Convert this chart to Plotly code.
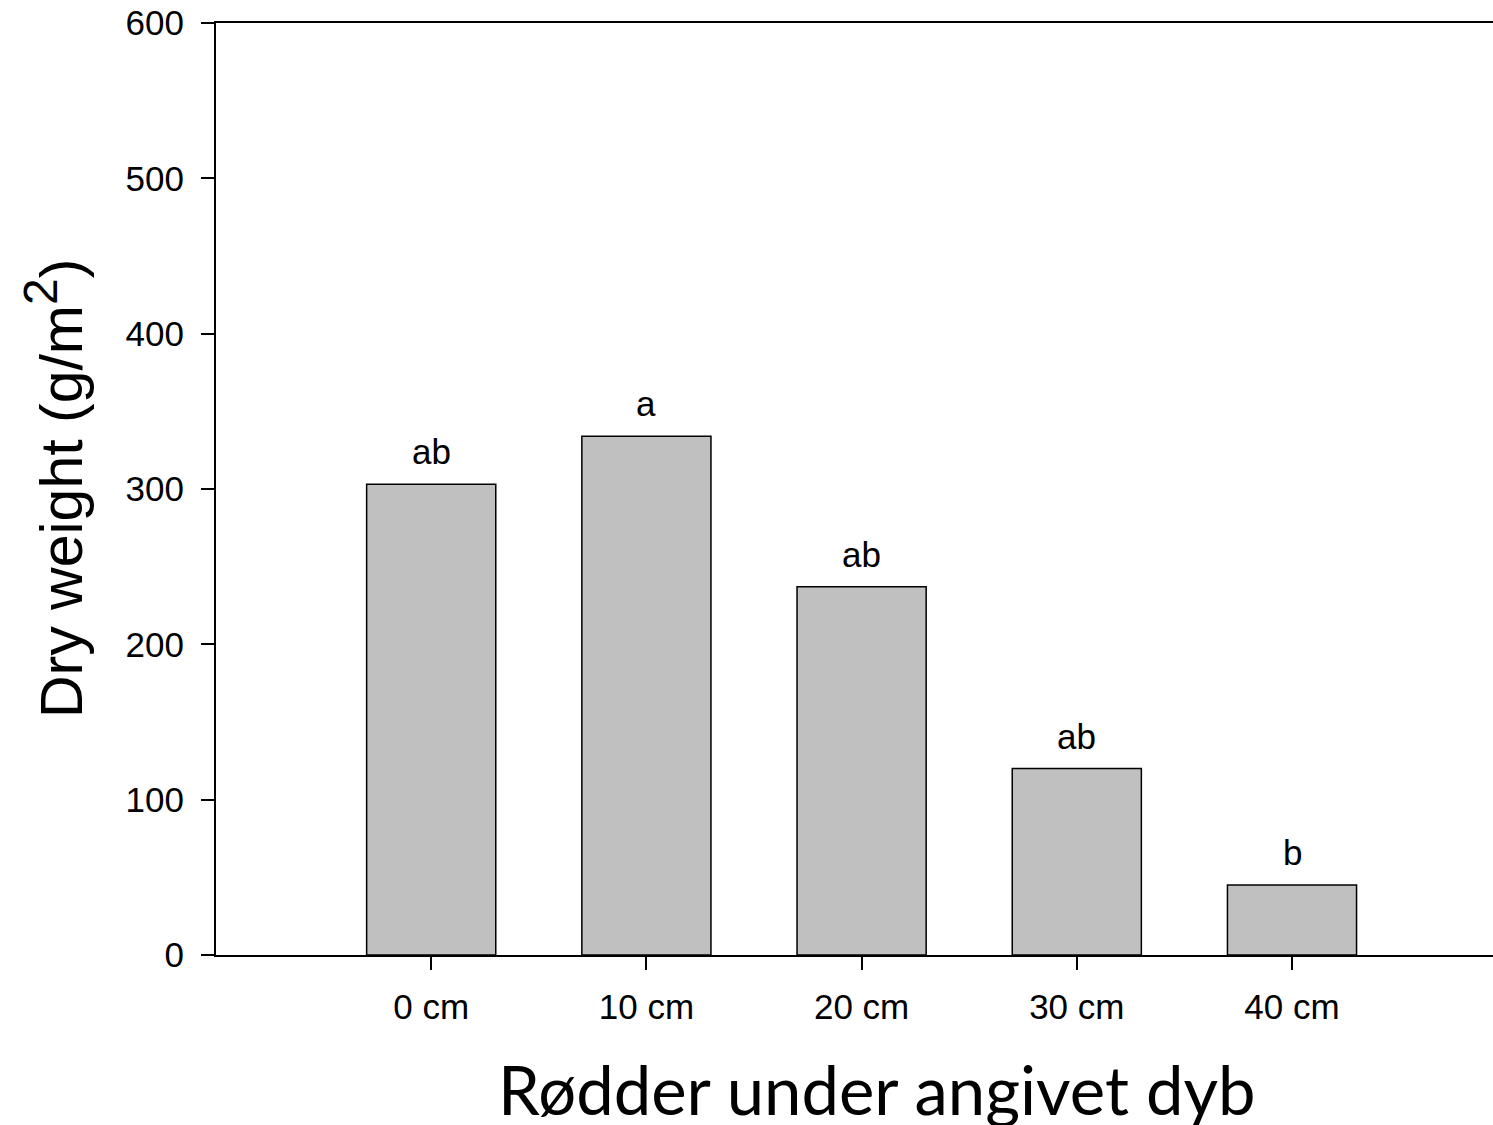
import plotly.graph_objects as go

# Root dry weight per depth class
depths = ["0 cm", "10 cm", "20 cm", "30 cm", "40 cm"]
dry_weight = [303, 334, 237, 120, 45]
group_letters = ["ab", "a", "ab", "ab", "b"]

x_pos = list(range(len(depths)))

fig = go.Figure()
fig.add_trace(go.Bar(
    x=x_pos,
    y=dry_weight,
    width=0.6,
    marker=dict(color="#c0c0c0", line=dict(color="black", width=1.5)),
    showlegend=False,
))

# Significance letters above each bar
for xi, yi, lab in zip(x_pos, dry_weight, group_letters):
    fig.add_annotation(
        x=xi, y=yi, text=lab, showarrow=False,
        xanchor="center", yanchor="bottom", yshift=11,
        font=dict(family="Liberation Sans, Arial", size=35, color="black"),
    )

# Axis titles
fig.add_annotation(
    xref="paper", yref="paper", x=-0.1268, y=0.5,
    text="Dry weight (g/m<sup><span style='font-size:48px'>2</span></sup>)",
    textangle=-90, showarrow=False,
    xanchor="center", yanchor="middle",
    font=dict(family="Liberation Sans, Arial", size=59, color="black"),
)
fig.add_annotation(
    xref="paper", yref="paper", x=0.5176, y=-0.1438,
    text="Rødder under angivet dyb", showarrow=False,
    xanchor="center", yanchor="middle",
    font=dict(family="Lato", size=67, color="black"),
)

fig.update_layout(
    width=1493, height=1125,
    margin=dict(l=216, r=0, t=23, b=170),
    paper_bgcolor="white", plot_bgcolor="white",
    font=dict(family="Liberation Sans, Arial", size=35, color="black"),
)
fig.update_xaxes(
    range=[-1, 4.934],
    tickmode="array", tickvals=x_pos, ticktext=depths,
    showline=True, linecolor="black", linewidth=2, mirror=True,
    ticks="outside", ticklen=13, tickwidth=2, tickcolor="black",
    ticklabelstandoff=7,
    showgrid=False, zeroline=False,
    tickfont=dict(size=35),
)
fig.update_yaxes(
    range=[0, 600], tickvals=[0, 100, 200, 300, 400, 500, 600],
    showline=True, linecolor="black", linewidth=2,
    ticks="outside", ticklen=13, tickwidth=2, tickcolor="black",
    ticklabelstandoff=10,
    showgrid=False, zeroline=False,
    tickfont=dict(size=35),
)

fig.write_html("out.html")
